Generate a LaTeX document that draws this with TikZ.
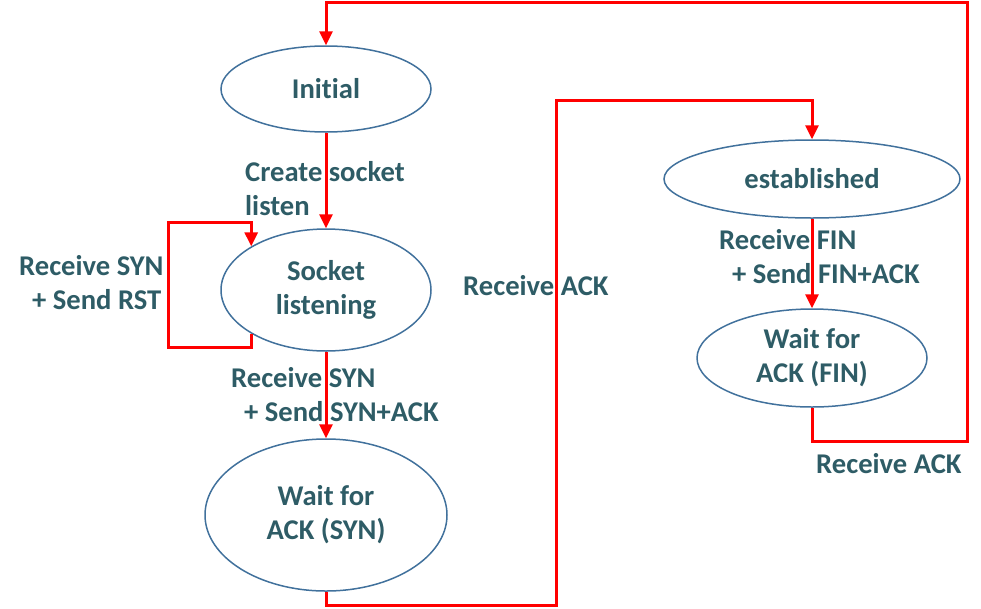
\documentclass[tikz,border=0pt]{standalone}
\usepackage{fontspec}
\setmainfont{Carlito}[Ligatures={NoCommon,NoRare}]
\usetikzlibrary{arrows.meta,shapes.geometric}
\definecolor{txtcol}{HTML}{2E5C66}
\definecolor{rimcol}{HTML}{41719C}
\tikzset{
  state/.style={ellipse, draw=rimcol, line width=1.5pt, inner sep=0pt, align=center,
    text=txtcol, font=\fontsize{28.6}{34}\selectfont\bfseries},
  trans/.style={draw=red, line width=3pt, -{Triangle[width=13pt,length=14pt]}},
  lbl/.style={anchor=west, inner sep=0pt, align=left, text=txtcol,
    font=\fontsize{28.6}{34}\selectfont\bfseries}
}
\begin{document}
\begin{tikzpicture}[x=1pt,y=-1pt]
\useasboundingbox (0,0) rectangle (981,608);

\node[state, minimum width=210pt, minimum height=86pt] (init) at (326,89) {Initial};
\node[state, minimum width=210pt, minimum height=122pt] (sock) at (326,290) {Socket\\listening};
\node[state, minimum width=242pt, minimum height=152pt] (waitsyn) at (326,515) {Wait for\\ACK (SYN)};
\node[state, minimum width=296pt, minimum height=78pt] (est) at (812,179) {established};
\node[state, minimum width=230pt, minimum height=98pt] (waitfin) at (812,358) {Wait for\\ACK (FIN)};

\coordinate (loopbot) at (168,347);
\coordinate (looptop) at (168,222);
\coordinate (synlow) at (556,605);
\coordinate (synhigh) at (556,100);
\coordinate (finlow) at (967,441);
\coordinate (finhigh) at (967,2);

\draw[trans] (init.south) -- (sock.north);
\draw[trans] (sock.south west) |- (loopbot) -- (looptop) -| (sock.north west);
\draw[trans] (sock.south) -- (waitsyn.north);
\draw[trans] (waitsyn.south) |- (synlow) -- (synhigh) -| (est.north);
\draw[trans] (est.south) -- (waitfin.north);
\draw[trans] (waitfin.south) |- (finlow) -- (finhigh) -| (init.north);

\node[lbl] (lcreate) at (245,189) {Create socket\\listen};
\node[lbl] (lrst) at (19,283) {Receive SYN\\\hspace{13pt}+ Send RST};
\node[lbl] (lsyn) at (231,395) {Receive SYN\\\hspace{13pt}+ Send SYN+ACK};
\node[lbl] (lack) at (463,286) {Receive ACK};
\node[lbl] (lfin) at (719,257) {Receive FIN\\\hspace{13pt}+ Send FIN+ACK};
\node[lbl] (lackfin) at (816,464) {Receive ACK};

\end{tikzpicture}
\end{document}
